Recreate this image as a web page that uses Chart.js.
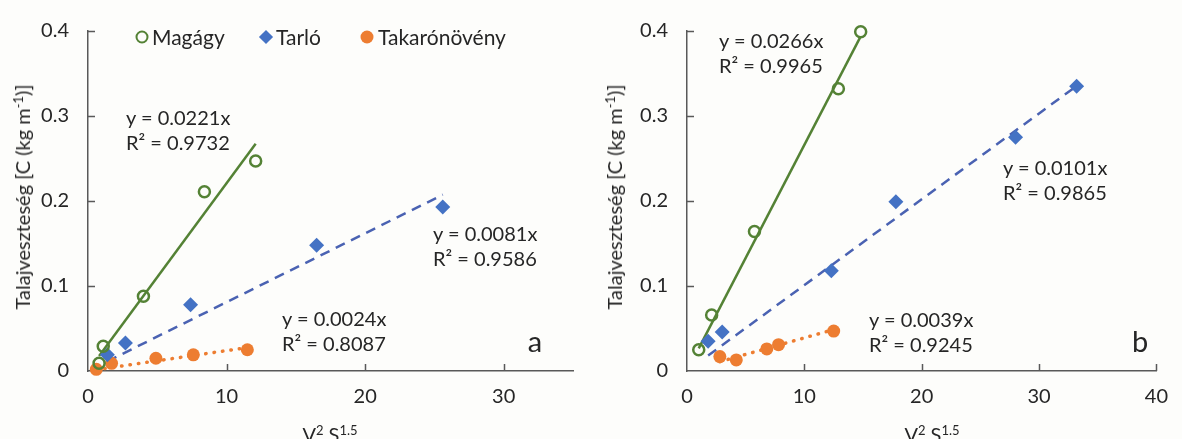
<!DOCTYPE html>
<html>
<head>
<meta charset="utf-8">
<script src="https://cdn.jsdelivr.net/npm/chart.js@4.4.0/dist/chart.umd.min.js"></script>
<style>
    html, body { margin: 0; padding: 0; background: #fdfdfb; }
    #wrap { position: relative; width: 1182px; height: 439px; overflow: hidden; font-family: Lato, sans-serif; color: #262626; }
    .panel { position: absolute; top: 0; width: 591px; height: 439px; }
    .lbl { position: absolute; white-space: nowrap; font-size: 20px; line-height: 24px; transform: translateY(-50%); }
    .leg { font-size: 21px; }
    .ctr { transform: translate(-50%, -50%); }
    .big { font-size: 29px; line-height: 30px; }
    .ytitle { position: absolute; white-space: nowrap; font-size: 20px; line-height: 24px; transform: translate(-50%, -50%) rotate(-90deg); }
    sup { font-size: 0.65em; line-height: 0; vertical-align: 0.55em; }
    .mk { position: absolute; box-sizing: border-box; transform: translate(-50%, -50%); }
</style>
</head>
<body>
<div id="wrap">
    <div class="panel" style="left:0"><canvas id="chartA" width="591" height="439"></canvas></div>
    <div class="panel" style="left:591px"><canvas id="chartB" width="591" height="439"></canvas></div>
</div>
<script>
/* ── Data ─────────────────────────────────────────────────── */
const seriesNames = ['Magágy', 'Tarló', 'Takarónövény'];

// panel a
const magagyAx  = [0.8, 1.1, 4.0, 8.4, 12.1];
const magagyAy  = [0.009, 0.029, 0.088, 0.211, 0.247];
const tarloAx   = [1.4, 2.7, 7.4, 16.5, 25.6];
const tarloAy   = [0.019, 0.033, 0.078, 0.148, 0.193];
const takaroAx  = [0.6, 1.7, 4.9, 7.6, 11.5];
const takaroAy  = [0.002, 0.009, 0.015, 0.019, 0.025];
const slopesA   = [0.0221, 0.0081, 0.0024];
const r2A       = [0.9732, 0.9586, 0.8087];

// panel b
const magagyBx  = [1.0, 2.1, 5.75, 12.9, 14.8];
const magagyBy  = [0.025, 0.066, 0.164, 0.332, 0.399];
const tarloBx   = [1.8, 3.0, 12.3, 17.8, 28.0, 33.2];
const tarloBy   = [0.035, 0.046, 0.118, 0.199, 0.275, 0.335];
const takaroBx  = [2.8, 4.2, 6.8, 7.8, 12.5];
const takaroBy  = [0.017, 0.013, 0.026, 0.031, 0.047];
const slopesB   = [0.0266, 0.0101, 0.0039];
const r2B       = [0.9965, 0.9865, 0.9245];

// axes
const xTicksA = [0, 10, 20, 30];
const xMaxA   = 35;
const xTicksB = [0, 10, 20, 30, 40];
const xMaxB   = 40;
const yTicks  = [0, 0.1, 0.2, 0.3, 0.4];

/* ── Styles ───────────────────────────────────────────────── */
const textColor = '#262626';
const axisColor = '#595959';
const green  = '#548235';
const blue   = '#4472C4';
const blueLn = '#4a62b2';
const orange = '#ED7D31';
const font   = 'Lato';

const pts = (xs, ys) => xs.map((x, i) => ({ x, y: ys[i] }));
const trend = (xs, k) => {
    const lo = Math.min(...xs), hi = Math.max(...xs);
    return [{ x: lo, y: k * lo }, { x: hi, y: k * hi }];
};

// tick marks pointing into the plot
const inwardTicks = {
    id: 'inwardTicks',
    afterDatasetsDraw(chart) {
        const { ctx, chartArea: a, scales: { x, y } } = chart;
        ctx.save();
        ctx.strokeStyle = axisColor;
        ctx.lineWidth = 1.5;
        ctx.beginPath();
        x.ticks.forEach(t => {
            if (t.value === 0) return;
            const px = Math.round(x.getPixelForValue(t.value)) + 0.5;
            ctx.moveTo(px, a.bottom); ctx.lineTo(px, a.bottom - 7);
        });
        y.ticks.forEach(t => {
            if (t.value === 0) return;
            const py = Math.round(y.getPixelForValue(t.value)) + 0.5;
            ctx.moveTo(a.left, py); ctx.lineTo(a.left + 7, py);
        });
        ctx.stroke();
        ctx.restore();
    },
};

function makePanel(id, data, xTicks, xMax, yAxisWidth, padRight) {
    const [mx, my, tx, ty, kx, ky, slopes] = data;
    new Chart(document.getElementById(id), {
        type: 'scatter',
        data: {
            datasets: [
                { label: seriesNames[0], data: pts(mx, my), pointStyle: 'circle', pointRadius: 5.5,
                  backgroundColor: 'rgba(0,0,0,0)', borderColor: green, pointBorderWidth: 2.5, order: 1, clip: false },
                { label: seriesNames[1], data: pts(tx, ty), pointStyle: 'rectRot', pointRadius: 7.5,
                  backgroundColor: blue, borderColor: blue, pointBorderWidth: 0, order: 2, clip: false },
                { label: seriesNames[2], data: pts(kx, ky), pointStyle: 'circle', pointRadius: 6.5,
                  backgroundColor: orange, borderColor: orange, pointBorderWidth: 0, order: 3, clip: false },
                { data: trend(mx, slopes[0]), showLine: true, pointRadius: 0, borderColor: green,
                  borderWidth: 2.5, order: 4, clip: false },
                { data: trend(tx, slopes[1]), showLine: true, pointRadius: 0, borderColor: blueLn,
                  borderWidth: 2.5, borderDash: [10, 7], order: 5, clip: false },
                { data: trend(kx, slopes[2]), showLine: true, pointRadius: 0, borderColor: orange,
                  borderWidth: 3.5, borderDash: [0.5, 8], borderCapStyle: 'round', order: 6, clip: false },
            ],
        },
        options: {
            responsive: false,
            animation: false,
            events: [],
            layout: { padding: { left: 0, top: 23, right: padRight, bottom: 0 } },
            plugins: { legend: { display: false }, tooltip: { enabled: false } },
            scales: {
                x: {
                    type: 'linear', min: 0, max: xMax,
                    afterBuildTicks: s => { s.ticks = xTicks.map(v => ({ value: v })); },
                    afterFit: s => { s.height = 68; },
                    ticks: { color: textColor, font: { family: font, size: 20 }, padding: 14, callback: v => String(v) },
                    grid: { display: true, drawOnChartArea: false, drawTicks: false },
                    border: { display: true, color: axisColor, width: 1.5 },
                },
                y: {
                    type: 'linear', min: 0, max: 0.4,
                    afterBuildTicks: s => { s.ticks = yTicks.map(v => ({ value: v })); },
                    afterFit: s => { s.width = yAxisWidth; },
                    ticks: { color: textColor, font: { family: font, size: 20 }, padding: 19, callback: v => String(v) },
                    grid: { display: true, drawOnChartArea: false, drawTicks: false },
                    border: { display: true, color: axisColor, width: 1.5 },
                },
            },
        },
        plugins: [inwardTicks],
    });
}

makePanel('chartA', [magagyAx, magagyAy, tarloAx, tarloAy, takaroAx, takaroAy, slopesA], xTicksA, xMaxA, 88, 18);
makePanel('chartB', [magagyBx, magagyBy, tarloBx, tarloBy, takaroBx, takaroBy, slopesB], xTicksB, xMaxB, 96, 14);

/* ── Text overlays ────────────────────────────────────────── */
const wrap = document.getElementById('wrap');
function addEl(cls, html, x, y, style) {
    const d = document.createElement('div');
    d.className = cls;
    d.innerHTML = html;
    d.style.left = x + 'px';
    d.style.top = y + 'px';
    if (style) Object.assign(d.style, style);
    wrap.appendChild(d);
    return d;
}

// equations: [left, center y of first line] per series
const eqPosA = [[126, 117], [433, 233], [282, 318]];
const eqPosB = [[719, 40], [1003, 167], [869, 319]];
[[slopesA, r2A, eqPosA], [slopesB, r2B, eqPosB]].forEach(([ks, rs, pos]) => {
    ks.forEach((k, i) => {
        addEl('lbl', `y = ${k.toFixed(4)}x`, pos[i][0], pos[i][1]);
        addEl('lbl', `R² = ${rs[i].toFixed(4)}`, pos[i][0], pos[i][1] + 25);
    });
});

addEl('lbl ctr big', 'a', 535, 341);
addEl('lbl ctr big', 'b', 1140, 341);

// axis titles
const yTitle = 'Talajveszteség [C (kg m<sup>-1</sup>)]';
const xTitle = 'V<sup>2</sup> S<sup>1.5</sup>';
addEl('ytitle', yTitle, 22, 197);
addEl('ytitle', yTitle, 614, 197);
addEl('lbl ctr', xTitle, 330, 434);
addEl('lbl ctr', xTitle, 932, 434);

// legend (panel a)
addEl('mk', '', 142, 37, { width: '13px', height: '13px', borderRadius: '50%', border: `2.5px solid ${green}` });
addEl('lbl leg', seriesNames[0], 152, 37);
addEl('mk', '', 266, 37, { width: '10px', height: '10px', background: blue, transform: 'translate(-50%, -50%) rotate(45deg)' });
addEl('lbl leg', seriesNames[1], 276, 37);
addEl('mk', '', 367, 37, { width: '13px', height: '13px', borderRadius: '50%', background: orange });
addEl('lbl leg', seriesNames[2], 378, 37);
</script>
</body>
</html>
